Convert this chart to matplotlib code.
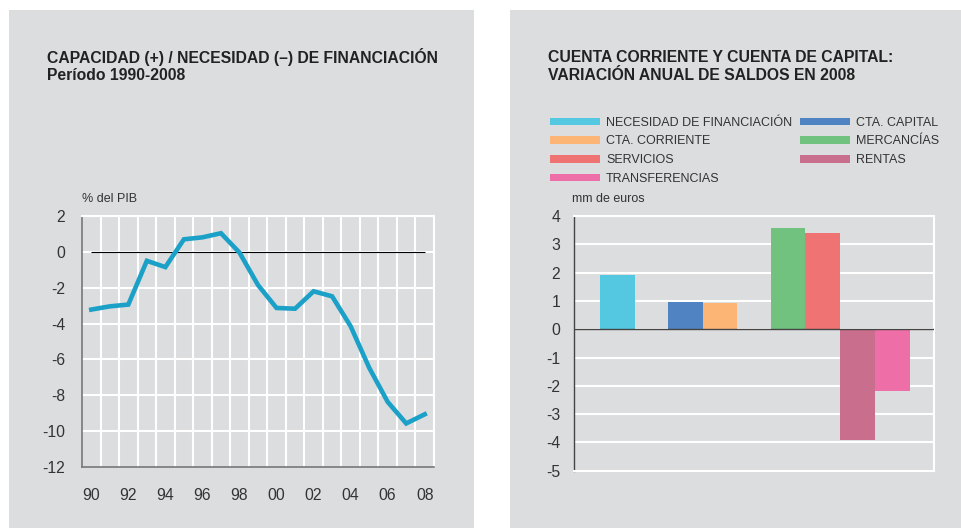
import matplotlib
matplotlib.use("Agg")
import matplotlib.pyplot as plt
from matplotlib.patches import Rectangle, Patch
import numpy as np

plt.rcParams['font.family'] = ['Liberation Sans', 'DejaVu Sans']
plt.rcParams['axes.unicode_minus'] = False

# ---- data: left chart ----
years = [1990, 1991, 1992, 1993, 1994, 1995, 1996, 1997, 1998, 1999,
         2000, 2001, 2002, 2003, 2004, 2005, 2006, 2007, 2008]
capacidad = [-3.22, -3.04, -2.94, -0.50, -0.85, 0.70, 0.81, 1.04, -0.04, -1.85,
             -3.13, -3.17, -2.20, -2.48, -4.15, -6.46, -8.37, -9.57, -9.06]
left_xticklabels = ['90', '92', '94', '96', '98', '00', '02', '04', '06', '08']

# ---- data: right chart ----
bar_labels = ['NECESIDAD DE FINANCIACIÓN', 'CTA. CAPITAL', 'CTA. CORRIENTE',
              'MERCANCÍAS', 'SERVICIOS', 'RENTAS', 'TRANSFERENCIAS']
bar_values = [1.92, 0.97, 0.93, 3.58, 3.40, -3.93, -2.20]
bar_groups = [1, 2, 4]  # bars per group
bar_colors = ['#54C8E1', '#4F83C1', '#FDB576', '#71C27F', '#F07373', '#C96E8D', '#EE6EA8']

W, H = 962, 528
fig = plt.figure(figsize=(W / 100, H / 100), dpi=100)
fig.patch.set_facecolor('white')

panel = '#DCDDDF'
def px_rect(x0, y0, x1, y1):
    return Rectangle((x0 / W, 1 - y1 / H), (x1 - x0) / W, (y1 - y0) / H,
                     transform=fig.transFigure, facecolor=panel, edgecolor='none', zorder=-10)
fig.patches.append(px_rect(9, 10, 474, 528))
fig.patches.append(px_rect(510, 10, 962, 528))

txt = '#333333'
def ftext(x, y, s, **kw):
    fig.text(x / W, 1 - y / H, s, **kw)

tfs = 11.3
ftext(47, 57, 'CAPACIDAD (+) / NECESIDAD (–) DE FINANCIACIÓN', fontsize=tfs,
      fontweight='bold', color='#222222', va='center', ha='left')
ftext(47, 76, 'Período 1990-2008', fontsize=tfs, fontweight='bold', color='#222222',
      va='center', ha='left')
ftext(548, 57, 'CUENTA CORRIENTE Y CUENTA DE CAPITAL:', fontsize=tfs,
      fontweight='bold', color='#222222', va='center', ha='left')
ftext(548, 76, 'VARIACIÓN ANUAL DE SALDOS EN 2008', fontsize=tfs, fontweight='bold',
      color='#222222', va='center', ha='left')

# ---- left axes ----
ax1 = fig.add_axes([82 / W, 1 - 467 / H, 352 / W, 251 / H])
ax1.set_facecolor(panel)
ax1.set_xlim(years[0] - 0.5, years[-1] + 0.5)
ax1.set_ylim(-12, 2)
for x in np.arange(years[0] + 0.5, years[-1] + 0.6, 1.0):
    ax1.axvline(x, color='white', lw=1.5, zorder=1)
for y in np.arange(-10, 2.1, 2):
    ax1.axhline(y, color='white', lw=1.5, zorder=1)
ax1.hlines(0, years[0], years[-1], color='black', lw=0.8, zorder=2)
ax1.plot(years, capacidad, color='#1BA1C8', lw=3.3, zorder=3, solid_joinstyle='miter')
ax1.set_xticks(years[::2])
ax1.set_xticklabels(left_xticklabels)
ax1.set_yticks(np.arange(-12, 2.1, 2))
ax1.set_yticklabels([f'{int(v)}' for v in np.arange(-12, 2.1, 2)])
ax1.tick_params(length=0, labelsize=11.3, colors=txt, pad=12)
ax1.tick_params(axis='x', pad=15)
for s in ['left', 'bottom']:
    ax1.spines[s].set_color('#777777')
    ax1.spines[s].set_linewidth(1.2)
for s in ['right', 'top']:
    ax1.spines[s].set_color('white')
    ax1.spines[s].set_linewidth(1.5)
ftext(82, 199, '% del PIB', fontsize=9, color=txt, va='center', ha='left')

# ---- right axes ----
ax2 = fig.add_axes([574 / W, 1 - 470.7 / H, 360 / W, 254.7 / H])
ax2.set_facecolor(panel)
positions = []
pos = 0.75
for g in bar_groups:
    for i in range(g):
        positions.append(pos + 0.5)
        pos += 1.0
    pos += 0.95
ax2.set_xlim(0, positions[-1] + 1.2)
ax2.set_ylim(-5, 4)
for y in range(-4, 5):
    ax2.axhline(y, color='white', lw=1.5, zorder=1)
ax2.bar(positions, bar_values, width=1.0, color=bar_colors, zorder=2)
ax2.axhline(0, color='#444444', lw=1.0, zorder=3)
ax2.set_xticks([])
ax2.set_yticks(range(-5, 5))
ax2.tick_params(length=0, labelsize=11.3, colors=txt, pad=10)
ax2.spines['left'].set_color('#444444')
ax2.spines['left'].set_linewidth(1.0)
for s in ['right', 'top', 'bottom']:
    ax2.spines[s].set_color('white')
    ax2.spines[s].set_linewidth(1.5)
ftext(572, 199, 'mm de euros', fontsize=9, color=txt, va='center', ha='left')

order = [0, 2, 4, 6, 1, 3, 5]
handles = [Patch(facecolor=bar_colors[i], edgecolor='none', label=bar_labels[i]) for i in order]
leg = fig.legend(handles=handles, ncol=2, loc='upper left',
                 bbox_to_anchor=(546 / W, 1 - 113 / H), frameon=False,
                 fontsize=9, handlelength=4.0, handleheight=0.55,
                 handletextpad=0.5, columnspacing=0.6, labelspacing=0.54,
                 borderaxespad=0, borderpad=0.3)
for t in leg.get_texts():
    t.set_color(txt)

fig.savefig('out.png', dpi=100, facecolor='white')
